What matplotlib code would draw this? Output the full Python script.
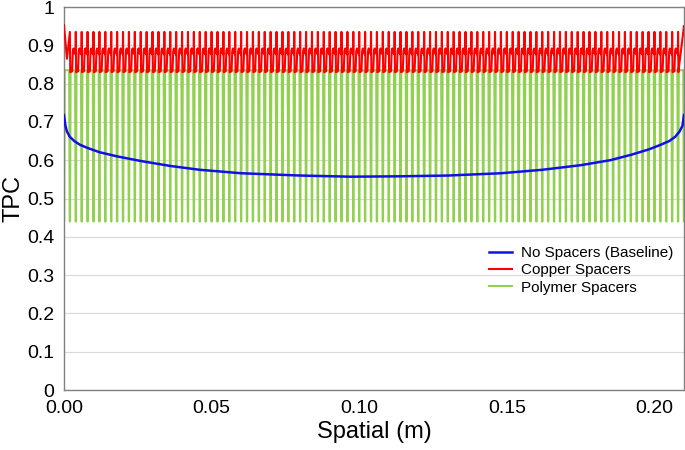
import numpy as np
import matplotlib
matplotlib.use("Agg")
import matplotlib.pyplot as plt

plt.rcParams['font.family'] = ['Liberation Sans', 'DejaVu Sans']

# ---- data ----
x_label = "Spatial (m)"
y_label = "TPC"
x_ticks = [0.00, 0.05, 0.10, 0.15, 0.20]
x_tick_labels = ["0.00", "0.05", "0.10", "0.15", "0.20"]
y_ticks = [0, 0.1, 0.2, 0.3, 0.4, 0.5, 0.6, 0.7, 0.8, 0.9, 1]
y_tick_labels = ["0", "0.1", "0.2", "0.3", "0.4", "0.5", "0.6", "0.7", "0.8", "0.9", "1"]
series_names = ["No Spacers (Baseline)", "Copper Spacers", "Polymer Spacers"]

# baseline (no spacers)
base_x = [0.0, 0.0005, 0.001, 0.002, 0.0035, 0.0055, 0.008, 0.012, 0.018, 0.026,
          0.036, 0.046, 0.060, 0.080, 0.097, 0.114, 0.130, 0.148, 0.162, 0.175,
          0.185, 0.192, 0.198, 0.202, 0.205, 0.207, 0.2085, 0.2095, 0.21]
base_y = [0.718, 0.690, 0.675, 0.661, 0.650, 0.640, 0.632, 0.621, 0.610, 0.598,
          0.585, 0.575, 0.566, 0.560, 0.557, 0.558, 0.560, 0.566, 0.575, 0.587,
          0.600, 0.614, 0.628, 0.640, 0.650, 0.661, 0.675, 0.690, 0.718]

# spacer layout
spacer_pitch = 0.002          # m between spacers
copper_first, copper_last = 1, 104   # spacer indices showing copper spikes
polymer_first, polymer_last = 0, 105

# copper: one period shape (phase as fraction of pitch, value)
copper_phase = [0.0, 0.06, 0.38, 0.50, 0.62, 0.75, 0.88, 0.96]
copper_value = [0.935, 0.830, 0.832, 0.885, 0.892, 0.880, 0.888, 0.876]
copper_start_x = [0.0, 0.001]
copper_start_y = [0.953, 0.865]
copper_end_x = [0.2081, 0.21]
copper_end_y = [0.830, 0.950]

# polymer: one period shape
polymer_phase = [-0.12, -0.03, 0.03, 0.12]
polymer_value = [0.835, 0.440, 0.440, 0.835]

# ---- build series ----
cx, cy = list(copper_start_x), list(copper_start_y)
for k in range(copper_first, copper_last + 1):
    for ph, v in zip(copper_phase, copper_value):
        if k == copper_last and ph > 0.06:
            break
        cx.append((k + ph) * spacer_pitch)
        cy.append(v)
cx += copper_end_x
cy += copper_end_y

px, py = [], []
for k in range(polymer_first, polymer_last + 1):
    for ph, v in zip(polymer_phase, polymer_value):
        px.append((k + ph) * spacer_pitch)
        py.append(v)

# ---- plot ----
fig = plt.figure(figsize=(6.85, 4.5), dpi=100)
ax = fig.add_axes([0.0934, 0.1333, 0.9051, 0.8511])

ax.plot(base_x, base_y, color='#1010E8', lw=1.8, label=series_names[0], zorder=4)
ax.plot(cx, cy, color='#FF0000', lw=1.5, label=series_names[1], zorder=3)
ax.plot(px, py, color='#92D050', lw=1.5, label=series_names[2], zorder=2)

ax.set_xlim(0, 0.21)
ax.set_ylim(0, 1)
ax.set_xticks(x_ticks)
ax.set_xticklabels(x_tick_labels)
ax.set_yticks(y_ticks)
ax.set_yticklabels(y_tick_labels)
ax.tick_params(axis='both', length=0, labelsize=14)
ax.tick_params(axis='x', pad=7)
ax.tick_params(axis='y', pad=7)
ax.yaxis.grid(True, color='#D9D9D9', lw=0.8)
ax.set_axisbelow(True)
for s in ax.spines.values():
    s.set_color('#808080')
    s.set_linewidth(1.0)

ax.set_xlabel(x_label, fontsize=17, labelpad=3)
ax.set_ylabel(y_label, fontsize=17, labelpad=2)

leg = ax.legend(loc='upper left', bbox_to_anchor=(0.685, 0.375), frameon=False,
                fontsize=11, handlelength=1.5, labelspacing=0.2, handletextpad=0.6,
                borderaxespad=0, borderpad=0)

fig.savefig('out.png', dpi=100)
